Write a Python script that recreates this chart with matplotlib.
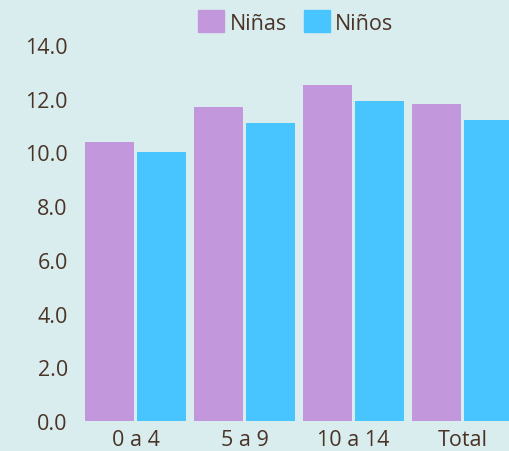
from matplotlib import pyplot as plt
from matplotlib.patches import Patch
import numpy as np

categories = ['0 a 4', '5 a 9', '10 a 14', 'Total']
ninas = [10.4, 11.7, 12.5, 11.8]
ninos = [10.0, 11.1, 11.9, 11.2]
y_ticks = [0, 2, 4, 6, 8, 10, 12, 14]

bg = '#daedee'
c_ninas = '#c397db'
c_ninos = '#48c5fe'
txt = '#4a3428'

plt.rcParams['font.family'] = ['Open Sans', 'DejaVu Sans']

W, H = 509, 452
fig = plt.figure(figsize=(W / 100, H / 100), dpi=100, facecolor=bg)
ax = fig.add_axes([81 / W, (H - 422) / H, 436 / W, (422 - 46) / H], facecolor=bg)

x = np.arange(len(categories))
bw = 49 / 109
off = 26 / 109
ax.bar(x - off, ninas, width=bw, color=c_ninas, label='Niñas')
ax.bar(x + off, ninos, width=bw, color=c_ninos, label='Niños')

ax.set_xlim(-0.5, len(categories) - 0.5)
ax.set_ylim(0, 14)
ax.set_yticks(y_ticks)
ax.set_yticklabels(['{:.1f}'.format(v) for v in y_ticks])
ax.set_xticks(x)
ax.set_xticklabels(categories)
ax.tick_params(axis='both', length=0, colors=txt, labelsize=15.5)
ax.tick_params(axis='y', pad=9.5)
ax.tick_params(axis='x', pad=6)
for s in ax.spines.values():
    s.set_visible(False)

handles = [Patch(color=c_ninas, label='Niñas'), Patch(color=c_ninos, label='Niños')]
leg = fig.legend(handles=handles, loc='center', bbox_to_anchor=(296 / W, 1 - 23 / H),
                 ncol=2, frameon=False, fontsize=15.5, handlelength=1.2, handleheight=1.2,
                 handletextpad=0.25, columnspacing=0.8, borderpad=0)
for t in leg.get_texts():
    t.set_color(txt)

fig.savefig('out.png', dpi=100, facecolor=bg)
